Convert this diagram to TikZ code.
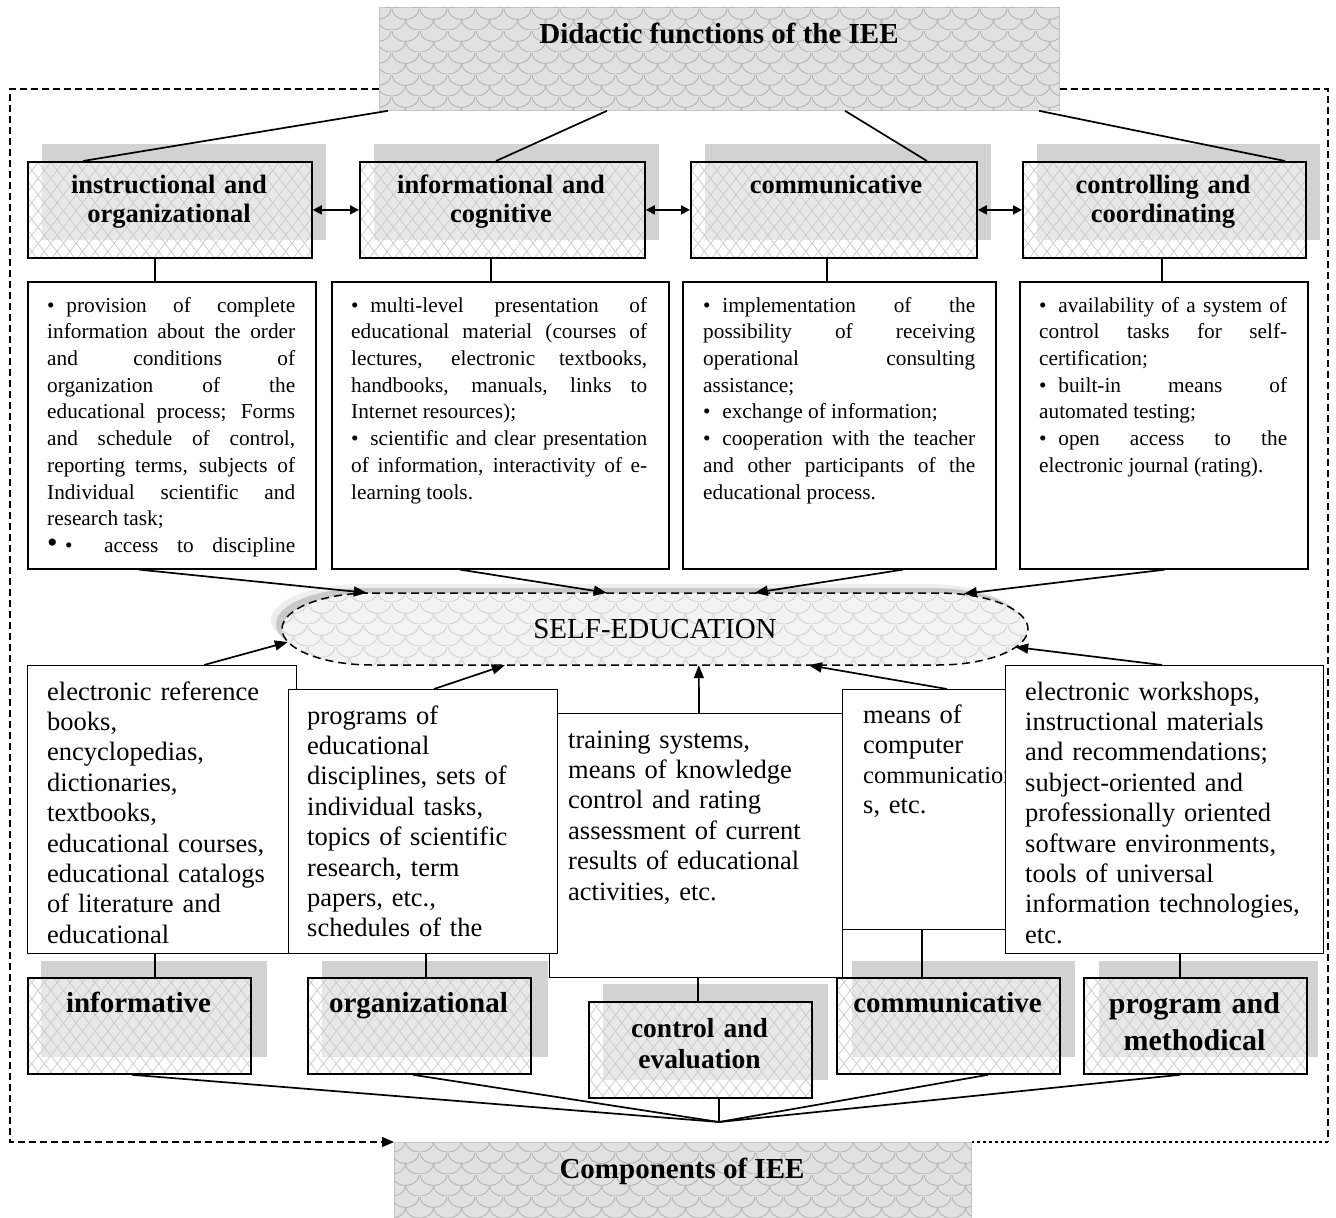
\documentclass[tikz,border=0pt]{standalone}
\usepackage{fontspec}
\setmainfont{Liberation Serif}
\usetikzlibrary{arrows.meta,calc,patterns.meta}

\setlength{\parindent}{0pt}
\tolerance=10000
\hbadness=10000

\definecolor{shadowgray}{HTML}{D2D2D2}
\definecolor{tilefill}{HTML}{E1E1E1}
\definecolor{tileline}{HTML}{B3B3B3}
\definecolor{hatch}{HTML}{C8C8C8}
\definecolor{ovalfill}{HTML}{F3F3F3}
\definecolor{ovalline}{HTML}{D0D0D0}

% fish-scale texture used for the two heading boxes and the oval
\tikzdeclarepattern{
  name=scales,
  type=uncolored,
  bounding box={(0pt,0pt) and (28pt,22pt)},
  tile size={(28pt,22pt)},
  code={
    \draw[line width=0.9pt] (0pt,22pt) arc[start angle=180,end angle=360,x radius=14pt,y radius=11pt];
    \draw[line width=0.9pt] (-14pt,11pt) arc[start angle=180,end angle=360,x radius=14pt,y radius=11pt];
    \draw[line width=0.9pt] (14pt,11pt) arc[start angle=180,end angle=360,x radius=14pt,y radius=11pt];
  }
}

\newcommand\upperfont{\fontsize{21.3}{26.7}\selectfont}
\newcommand\lowerfont{\fontsize{26.5}{30.4}\selectfont}
\newcommand\dfont{\fontsize{26.5}{30}\selectfont}
\newcommand\bul{\textbullet\hspace{0.55em}}

\tikzset{
  heading/.style={fill=tilefill, draw=gray!45, line width=0.8pt,
    postaction={pattern=scales, pattern color=tileline},
    anchor=north west, inner sep=0pt},
  headtext/.style={font=\fontsize{29}{34}\selectfont\bfseries, anchor=base, inner sep=0pt},
  shade/.style={fill=shadowgray, anchor=north west, inner sep=0pt, minimum height=96pt},
  front/.style={draw, line width=1.8pt,
    preaction={fill=white, fill opacity=0.5},
    preaction={pattern={Lines[angle=52,distance=10pt,line width=0.7pt]}, pattern color=hatch},
    preaction={pattern={Lines[angle=-52,distance=10pt,line width=0.7pt]}, pattern color=hatch},
    anchor=north west, inner sep=0pt, minimum height=96pt},
  ftitle/.style={font=\fontsize{26.5}{29}\selectfont\bfseries, text width=280pt, align=center,
    anchor=north, inner sep=0pt},
  clabel/.style={font=\fontsize{29}{34}\selectfont\bfseries, anchor=base, inner sep=0pt},
  textbox/.style={draw, line width=1.6pt, fill=white, anchor=north west, inner sep=0pt},
  lowbox/.style={draw, line width=1.1pt, fill=white, anchor=north west, inner sep=0pt},
  uppertext/.style={font=\upperfont, align=justify, anchor=north west, inner sep=0pt},
  lowertext/.style={font=\lowerfont, text width=300pt, align=left, anchor=north west, inner sep=0pt},
  link/.style={line width=1.7pt},
  thinlink/.style={line width=1.1pt},
  arr/.style={line width=1.7pt, -{Triangle[length=13pt,width=10pt]}},
  darr/.style={line width=1.7pt, {Triangle[length=9pt,width=9pt]}-{Triangle[length=9pt,width=9pt]}},
  frame/.style={line width=1.5pt, dash pattern=on 7pt off 4pt},
  selfshape/.style={insert path={(372,593) -- (938,593)
    arc[start angle=-90,end angle=90,x radius=90,y radius=36] -- (372,665)
    arc[start angle=90,end angle=270,x radius=90,y radius=36] -- cycle}}
}

\begin{document}
\begin{tikzpicture}[x=1pt,y=-1pt]
\useasboundingbox (0,0) rectangle (1336,1218);

% ---------- heading ----------
\node[heading, minimum width=680pt, minimum height=103pt] (title) at (379,7) {};
\node[headtext] (titletxt) at (719,43) {Didactic functions of the IEE};

% ---------- didactic functions ----------
\node[shade, minimum width=284pt] (fs1) at (42,144) {};
\node[shade, minimum width=285pt] (fs2) at (374,144) {};
\node[shade, minimum width=286pt] (fs3) at (705,144) {};
\node[shade, minimum width=283pt] (fs4) at (1037,144) {};
\node[front, minimum width=284pt] (fi1) at (27,161) {};
\node[front, minimum width=285pt] (fi2) at (359,161) {};
\node[front, minimum width=286pt] (fi3) at (690,161) {};
\node[front, minimum width=283pt] (fi4) at (1022,161) {};
\node[ftitle] (fl1) at (169,172.7) {\strut instructional and\\organizational};
\node[ftitle] (fl2) at (501,172.7) {\strut informational and\\cognitive};
\node[ftitle] (fl3) at (836,172.7) {\strut communicative};
\node[ftitle] (fl4) at (1163,172.7) {\strut controlling and\\coordinating};

\draw[link] ($(title.south west)+(9,0)$) -- ($(fi1.north west)+(56,0)$);
\draw[link] ($(title.south west)+(228,0)$) -- ($(fi2.north west)+(137,0)$);
\draw[link] ($(title.south west)+(466,0)$) -- ($(fi3.north west)+(237,0)$);
\draw[link] ($(title.south west)+(660,0)$) -- ($(fi4.north west)+(263,0)$);

\draw[darr] (fi1.east) -- (fi2.west);
\draw[darr] (fi2.east) -- (fi3.west);
\draw[darr] (fi3.east) -- (fi4.west);

% ---------- function descriptions ----------
\node[textbox, minimum width=288pt, minimum height=287pt] (tb1) at (27,281) {};
\node[textbox, minimum width=337pt, minimum height=287pt] (tb2) at (331,281) {};
\node[textbox, minimum width=313pt, minimum height=287pt] (tb3) at (682,281) {};
\node[textbox, minimum width=288pt, minimum height=287pt] (tb4) at (1019,281) {};

\node[uppertext, text width=248pt] (tt1) at (47,293.3) {\strut\bul provision of complete\linebreak
information about the order\linebreak and conditions of\linebreak organization of the\linebreak
educational process; Forms\linebreak and schedule of control,\linebreak reporting terms, subjects of\linebreak
Individual scientific and\linebreak research task;\par
\makebox[\linewidth][s]{{\fontsize{30}{26.7}\selectfont\textbullet}\hspace{0.35em}\textbullet\hspace{0.6em} access to discipline}};
\node[uppertext, text width=296pt] (tt2) at (351,293.3) {\strut\bul multi-level presentation of\linebreak
educational material (courses of\linebreak lectures, electronic textbooks,\linebreak
handbooks, manuals, links to\linebreak Internet resources);\par
\bul scientific and clear presentation\linebreak of information, interactivity of e-\linebreak learning tools.};
\node[uppertext, text width=272pt] (tt3) at (703,293.3) {\strut\bul implementation of the\linebreak
possibility of receiving\linebreak operational consulting\linebreak assistance;\par
\bul exchange of information;\par
\bul cooperation with the teacher\linebreak and other participants of the\linebreak educational process.};
\node[uppertext, text width=248pt] (tt4) at (1039,293.3) {\strut\bul availability of a system of\linebreak
control tasks for self-\linebreak certification;\par
\bul built-in means of\linebreak automated testing;\par
\bul open access to the\linebreak electronic journal (rating).};

\draw[link] ($(fi1.south west)+(128,0)$) -- ($(tb1.north west)+(128,0)$);
\draw[link] ($(fi2.south west)+(132,0)$) -- ($(tb2.north west)+(160,0)$);
\draw[link] ($(fi3.south west)+(137,0)$) -- ($(tb3.north west)+(145,0)$);
\draw[link] ($(fi4.south west)+(140,0)$) -- ($(tb4.north west)+(143,0)$);

% ---------- self-education oval ----------
\fill[gray!13, shift={(-11,-9)}, selfshape];
\fill[gray!42, shift={(-6,-5)}, selfshape];
\path[fill=ovalfill, postaction={pattern=scales, pattern color=ovalline}, selfshape];
\draw[line width=1.5pt, dash pattern=on 8pt off 5pt, selfshape];
\node[minimum width=746pt, minimum height=72pt, inner sep=0pt, font=\fontsize{29}{34}\selectfont]
  (selfed) at (655,629) {SELF-EDUCATION};

\draw[arr] ($(tb1.south west)+(112,0)$) -- ($(selfed.north west)+(85,0)$);
\draw[arr] ($(tb2.south west)+(129,0)$) -- ($(selfed.north west)+(325,0)$);
\draw[arr] ($(tb3.south west)+(221,0)$) -- ($(selfed.north west)+(473,0)$);
\draw[arr] ($(tb4.south west)+(146,0)$) -- ($(selfed.north west)+(682,1)$);

% ---------- component shadows ----------
\node[shade, minimum width=226pt] (cs1) at (41,961) {};
\node[shade, minimum width=226pt] (cs2) at (322,961) {};
\node[shade, minimum width=225pt] (cs3) at (603,984) {};
\node[shade, minimum width=223pt] (cs4) at (852,961) {};
\node[shade, minimum width=219pt] (cs5) at (1099,961) {};

% ---------- means of the environment ----------
\node[lowbox, minimum width=269pt, minimum height=288pt] (lA) at (27,665) {};
\node[lowertext] (ltA) at (47,678.7) {\strut electronic reference\\books,\\encyclopedias,\\dictionaries,\\
textbooks,\\educational courses,\\educational catalogs\\of literature and\\educational};
\node[lowbox, minimum width=293pt, minimum height=264pt] (lC) at (549,713) {};
\node[lowertext] (ltC) at (568,726.7) {\strut training systems,\\means of knowledge\\control and rating\\
assessment of current\\results of educational\\activities, etc.};
\node[lowbox, minimum width=269pt, minimum height=264pt] (lB) at (288,689) {};
\node[lowertext] (ltB) at (307,702.7) {\strut programs of\\educational\\disciplines, sets of\\
individual tasks,\\topics of scientific\\research, term\\papers, etc.,\\schedules of the};
\node[lowbox, minimum width=163pt, minimum height=240pt] (lD) at (842,689) {};
\node[lowertext, font=\dfont] (ltD) at (863,702) {\strut means of\\computer\\
{\fontsize{24.5}{30}\selectfont communication}\\s, etc.};
\node[lowbox, minimum width=318pt, minimum height=288pt] (lE) at (1005,665) {};
\node[lowertext] (ltE) at (1025,678.7) {\strut electronic workshops,\\instructional materials\\
and recommendations;\\subject-oriented and\\professionally oriented\\software environments,\\
tools of universal\\information technologies,\\etc.};

\draw[arr] ($(lA.north west)+(177,0)$) -- ($(selfed.west)+(6,13)$);
\draw[arr] ($(lB.north west)+(146,0)$) -- ($(selfed.south west)+(223,0)$);
\draw[arr] ($(lC.north west)+(150,0)$) -- ($(selfed.south west)+(417,0)$);
\draw[arr] ($(lD.north west)+(105,0)$) -- ($(selfed.south west)+(527,0)$);
\draw[arr] ($(lE.north west)+(157,0)$) -- ($(selfed.east)+(-13,18)$);

% ---------- components ----------
\node[front, minimum width=223pt] (cp1) at (27,977) {};
\node[front, minimum width=223pt] (cp2) at (307,977) {};
\node[front, minimum width=223pt] (cp3) at (588,1001) {};
\node[front, minimum width=223pt] (cp4) at (836,977) {};
\node[front, minimum width=223pt] (cp5) at (1083,977) {};
\node[clabel] (cl1) at (138.5,1012) {informative};
\node[clabel] (cl2) at (418.5,1012) {organizational};
\node[font=\fontsize{27.5}{31}\selectfont\bfseries, text width=220pt, align=center, anchor=north,
  inner sep=0pt] (cl3) at (699.5,1015.3) {\strut control and\\evaluation};
\node[clabel] (cl4) at (947.5,1012) {communicative};
\node[font=\fontsize{30}{37}\selectfont\bfseries, text width=222pt, align=center, anchor=north,
  inner sep=0pt] (cl5) at (1194.5,987.1) {\strut program and\\methodical};

\draw[thinlink] ($(lA.south west)+(128,0)$) -- ($(cp1.north west)+(128,0)$);
\draw[thinlink] ($(lB.south west)+(138,0)$) -- ($(cp2.north west)+(119,0)$);
\draw[thinlink] ($(lC.south west)+(149,0)$) -- ($(cp3.north west)+(110,0)$);
\draw[thinlink] ($(lD.south west)+(80,0)$) -- ($(cp4.north west)+(86,0)$);
\draw[thinlink] ($(lE.south west)+(175,0)$) -- ($(cp5.north west)+(97,0)$);

% ---------- components heading ----------
\coordinate (hub) at (719,1122);
\draw[link] ($(cp1.south west)+(105,0)$) -- (hub);
\draw[link] ($(cp2.south west)+(106,0)$) -- (hub);
\draw[thinlink] ($(cp3.south west)+(131,0)$) -- (hub);
\draw[link] ($(cp4.south west)+(152,0)$) -- (hub);
\draw[link] ($(cp5.south west)+(97,0)$) -- (hub);

\node[heading, minimum width=577pt, minimum height=76pt] (comp) at (394,1142) {};
\node[headtext] (comptxt) at (682,1178) {Components of IEE};

% ---------- dashed frame ----------
\coordinate (frTL) at (10,89);
\coordinate (frBL) at (10,1142);
\coordinate (frTR) at (1328,89);
\coordinate (frBR) at (1328,1142);
\draw[frame, -{Triangle[length=12pt,width=10pt]}] (title.west |- frTL) -- (frTL) -- (frBL) -- (comp.north west);
\draw[frame] (title.east |- frTR) -- (frTR) -- (frBR);
\draw[line width=1.3pt, dash pattern=on 3.5pt off 2.5pt] (frBR) -- (comp.north east);
\end{tikzpicture}
\end{document}
